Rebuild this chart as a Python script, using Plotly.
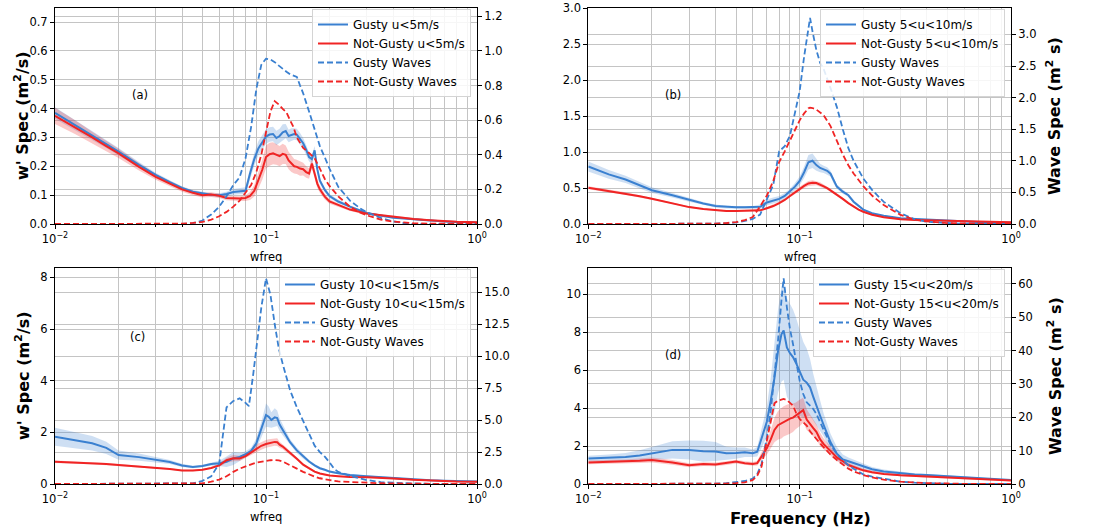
import plotly.graph_objects as go

W, H = 1094, 530
BLUE = "#3a80d0"
RED = "#f02424"
BLUE_FILL = "rgba(58,128,208,0.25)"
RED_FILL = "rgba(240,36,36,0.25)"
GRID = "#c4c4c4"
FONT = "DejaVu Sans"

# ---------------- Panel (a) ----------------
fa_wind = [0.01, 0.0125, 0.015, 0.0175, 0.02, 0.025, 0.03, 0.035, 0.04, 0.045,
           0.05, 0.055, 0.06, 0.065, 0.07, 0.075, 0.08, 0.084, 0.088, 0.092,
           0.096, 0.1, 0.104, 0.108, 0.112, 0.116, 0.12, 0.124, 0.128, 0.132,
           0.136, 0.14, 0.145, 0.15, 0.155, 0.16, 0.165, 0.17, 0.175, 0.18,
           0.19, 0.2, 0.22, 0.25, 0.3, 0.35, 0.4, 0.45, 0.5, 0.6,
           0.7, 0.8, 1.0]
gust_a = [0.385, 0.342, 0.307, 0.277, 0.251, 0.205, 0.170, 0.145, 0.125, 0.112,
          0.105, 0.101, 0.100, 0.104, 0.111, 0.113, 0.115, 0.175, 0.225, 0.262,
          0.285, 0.303, 0.310, 0.312, 0.298, 0.305, 0.318, 0.322, 0.305, 0.310,
          0.312, 0.310, 0.295, 0.280, 0.258, 0.232, 0.225, 0.255, 0.190, 0.150,
          0.118, 0.097, 0.078, 0.060, 0.038, 0.028, 0.022, 0.019, 0.016, 0.011,
          0.009, 0.007, 0.005]
nogust_a = [0.375, 0.335, 0.300, 0.270, 0.245, 0.198, 0.163, 0.140, 0.120, 0.108,
            0.100, 0.102, 0.098, 0.090, 0.089, 0.088, 0.090, 0.097, 0.115, 0.150,
            0.188, 0.232, 0.242, 0.245, 0.240, 0.235, 0.243, 0.240, 0.220, 0.208,
            0.200, 0.198, 0.192, 0.190, 0.180, 0.175, 0.210, 0.175, 0.140, 0.120,
            0.095, 0.078, 0.065, 0.050, 0.036, 0.030, 0.026, 0.022, 0.017, 0.013,
            0.010, 0.008, 0.006]
gust_err_a = [0.020, 0.018, 0.016, 0.014, 0.012, 0.010, 0.008, 0.007, 0.006, 0.006,
              0.006, 0.006, 0.007, 0.008, 0.010, 0.010, 0.012, 0.018, 0.022, 0.025,
              0.025, 0.025, 0.025, 0.025, 0.025, 0.025, 0.028, 0.025, 0.022, 0.022,
              0.020, 0.020, 0.020, 0.018, 0.016, 0.015, 0.015, 0.015, 0.012, 0.010,
              0.008, 0.007, 0.006, 0.005, 0.004, 0.004, 0.003, 0.003, 0.003, 0.002,
              0.002, 0.002, 0.002]
nogust_err_a = [0.028, 0.024, 0.020, 0.018, 0.016, 0.013, 0.010, 0.009, 0.008, 0.008,
                0.008, 0.008, 0.008, 0.008, 0.008, 0.008, 0.010, 0.014, 0.020, 0.028,
                0.035, 0.040, 0.040, 0.038, 0.035, 0.035, 0.035, 0.032, 0.030, 0.028,
                0.025, 0.025, 0.025, 0.022, 0.020, 0.018, 0.018, 0.016, 0.014, 0.012,
                0.010, 0.008, 0.006, 0.005, 0.004, 0.004, 0.003, 0.003, 0.003, 0.002,
                0.002, 0.002, 0.002]
fa_wave = [0.01, 0.02, 0.03, 0.04, 0.045, 0.05, 0.055, 0.06, 0.065, 0.07,
           0.075, 0.08, 0.085, 0.09, 0.095, 0.1, 0.105, 0.11, 0.115, 0.12,
           0.125, 0.13, 0.135, 0.14, 0.145, 0.15, 0.16, 0.17, 0.18, 0.19,
           0.2, 0.22, 0.25, 0.28, 0.3, 0.35, 0.4, 0.45, 0.5, 0.6,
           0.8, 1.0]
gust_wave_a = [0, 0, 0, 0, 0.005, 0.02, 0.055, 0.10, 0.16, 0.225,
               0.27, 0.38, 0.56, 0.78, 0.92, 0.955, 0.95, 0.935, 0.915, 0.895,
               0.88, 0.865, 0.855, 0.85, 0.80, 0.755, 0.65, 0.54, 0.45, 0.385,
               0.32, 0.215, 0.135, 0.09, 0.068, 0.035, 0.015, 0.005, 0, 0,
               0, 0]
nogust_wave_a = [0, 0, 0, 0.002, 0.006, 0.012, 0.025, 0.045, 0.07, 0.10,
                 0.135, 0.18, 0.225, 0.30, 0.40, 0.53, 0.65, 0.71, 0.69, 0.665,
                 0.645, 0.60, 0.56, 0.50, 0.465, 0.44, 0.41, 0.38, 0.32, 0.26,
                 0.22, 0.16, 0.10, 0.065, 0.05, 0.026, 0.014, 0.008, 0.005, 0.002,
                 0, 0]

# ---------------- Panel (b) ----------------
fb_wind = [0.01, 0.0125, 0.015, 0.0175, 0.02, 0.025, 0.03, 0.035, 0.04, 0.045,
           0.05, 0.055, 0.06, 0.065, 0.07, 0.075, 0.08, 0.085, 0.09, 0.095,
           0.1, 0.105, 0.11, 0.115, 0.12, 0.125, 0.13, 0.135, 0.14, 0.145,
           0.15, 0.16, 0.17, 0.18, 0.19, 0.2, 0.22, 0.25, 0.3, 0.35,
           0.4, 0.5, 0.6, 0.7, 0.8, 1.0]
gust_b = [0.80, 0.69, 0.62, 0.54, 0.47, 0.40, 0.335, 0.285, 0.25, 0.235,
          0.232, 0.232, 0.232, 0.24, 0.30, 0.33, 0.35, 0.39, 0.45, 0.52,
          0.60, 0.72, 0.86, 0.88, 0.82, 0.78, 0.76, 0.74, 0.70, 0.60,
          0.52, 0.45, 0.40, 0.31, 0.25, 0.20, 0.15, 0.115, 0.08, 0.07,
          0.058, 0.045, 0.035, 0.028, 0.024, 0.02]
nogust_b = [0.505, 0.46, 0.425, 0.385, 0.35, 0.29, 0.235, 0.21, 0.19, 0.182,
            0.18, 0.182, 0.185, 0.19, 0.22, 0.25, 0.29, 0.335, 0.39, 0.44,
            0.49, 0.53, 0.565, 0.575, 0.57, 0.55, 0.525, 0.50, 0.47, 0.44,
            0.41, 0.35, 0.29, 0.24, 0.20, 0.17, 0.13, 0.095, 0.065, 0.055,
            0.05, 0.045, 0.038, 0.032, 0.028, 0.023]
gust_err_b = [0.07, 0.06, 0.05, 0.045, 0.04, 0.03, 0.025, 0.02, 0.02, 0.02,
              0.02, 0.02, 0.02, 0.03, 0.04, 0.04, 0.04, 0.04, 0.04, 0.05,
              0.06, 0.08, 0.10, 0.10, 0.08, 0.06, 0.05, 0.05, 0.04, 0.04,
              0.03, 0.03, 0.02, 0.02, 0.015, 0.012, 0.01, 0.008, 0.006, 0.005,
              0.005, 0.004, 0.004, 0.003, 0.003, 0.003]
nogust_err_b = [0.02, 0.02, 0.018, 0.016, 0.015, 0.013, 0.012, 0.01, 0.01, 0.01,
                0.01, 0.01, 0.01, 0.012, 0.015, 0.018, 0.02, 0.02, 0.025, 0.03,
                0.03, 0.03, 0.035, 0.035, 0.03, 0.03, 0.025, 0.025, 0.02, 0.02,
                0.02, 0.015, 0.012, 0.01, 0.01, 0.008, 0.006, 0.005, 0.004, 0.004,
                0.003, 0.003, 0.003, 0.002, 0.002, 0.002]
fb_wave = [0.01, 0.02, 0.03, 0.035, 0.04, 0.045, 0.05, 0.055, 0.06, 0.065,
           0.07, 0.075, 0.08, 0.085, 0.09, 0.095, 0.1, 0.105, 0.11, 0.112,
           0.115, 0.12, 0.125, 0.13, 0.14, 0.15, 0.16, 0.17, 0.18, 0.2,
           0.22, 0.25, 0.3, 0.35, 0.4, 0.5, 0.6, 0.8, 1.0]
gust_wave_b = [0, 0, 0, 0, 0.005, 0.012, 0.025, 0.05, 0.08, 0.15,
               0.38, 0.62, 1.15, 1.23, 1.40, 1.75, 2.10, 2.65, 3.10, 3.26,
               3.05, 2.75, 2.55, 2.45, 2.15, 1.85, 1.50, 1.20, 1.00, 0.72,
               0.54, 0.35, 0.17, 0.075, 0.035, 0.01, 0, 0, 0]
nogust_wave_b = [0, 0, 0, 0, 0.005, 0.015, 0.03, 0.06, 0.11, 0.28,
                 0.45, 0.68, 0.98, 1.15, 1.32, 1.50, 1.64, 1.75, 1.83, 1.84,
                 1.835, 1.81, 1.77, 1.72, 1.55, 1.32, 1.10, 0.93, 0.80, 0.60,
                 0.45, 0.30, 0.143, 0.07, 0.04, 0.015, 0.005, 0, 0]

# ---------------- Panel (c) ----------------
fc_wind = [0.01, 0.0125, 0.015, 0.0175, 0.02, 0.025, 0.03, 0.035, 0.04, 0.045,
           0.05, 0.055, 0.06, 0.065, 0.07, 0.075, 0.08, 0.085, 0.09, 0.095,
           0.1, 0.103, 0.106, 0.11, 0.113, 0.116, 0.12, 0.125, 0.13, 0.14,
           0.15, 0.16, 0.17, 0.18, 0.19, 0.2, 0.22, 0.25, 0.3, 0.35,
           0.4, 0.5, 0.6, 0.7, 0.8, 1.0]
gust_c = [1.83, 1.70, 1.58, 1.40, 1.12, 1.04, 0.93, 0.85, 0.72, 0.66,
          0.70, 0.77, 0.80, 0.86, 0.99, 1.05, 1.15, 1.28, 1.57, 2.10,
          2.67, 2.60, 2.48, 2.58, 2.55, 2.30, 2.09, 1.85, 1.62, 1.30,
          1.06, 0.87, 0.72, 0.61, 0.55, 0.48, 0.42, 0.35, 0.30, 0.26,
          0.24, 0.18, 0.15, 0.13, 0.12, 0.10]
nogust_c = [0.86, 0.83, 0.80, 0.77, 0.735, 0.68, 0.62, 0.58, 0.52, 0.52,
            0.55, 0.62, 0.72, 0.92, 1.00, 0.99, 1.08, 1.22, 1.38, 1.48,
            1.55, 1.58, 1.60, 1.63, 1.62, 1.52, 1.45, 1.33, 1.20, 0.98,
            0.75, 0.60, 0.48, 0.41, 0.36, 0.33, 0.30, 0.27, 0.26, 0.24,
            0.21, 0.16, 0.13, 0.11, 0.10, 0.09]
gust_err_c = [0.35, 0.32, 0.28, 0.24, 0.18, 0.14, 0.10, 0.08, 0.06, 0.05,
              0.05, 0.06, 0.10, 0.20, 0.25, 0.15, 0.12, 0.12, 0.20, 0.30,
              0.45, 0.40, 0.30, 0.35, 0.30, 0.25, 0.20, 0.15, 0.12, 0.10,
              0.08, 0.06, 0.05, 0.05, 0.04, 0.04, 0.03, 0.03, 0.03, 0.02,
              0.02, 0.02, 0.02, 0.02, 0.02, 0.02]
nogust_err_c = [0.05, 0.05, 0.04, 0.04, 0.04, 0.04, 0.03, 0.03, 0.03, 0.03,
                0.03, 0.04, 0.06, 0.10, 0.12, 0.10, 0.10, 0.12, 0.15, 0.15,
                0.15, 0.15, 0.15, 0.15, 0.15, 0.12, 0.10, 0.08, 0.08, 0.06,
                0.05, 0.04, 0.04, 0.03, 0.03, 0.03, 0.02, 0.02, 0.02, 0.02,
                0.02, 0.02, 0.02, 0.02, 0.02, 0.02]
fc_wave = [0.01, 0.02, 0.03, 0.04, 0.045, 0.05, 0.055, 0.06, 0.065, 0.07,
           0.075, 0.08, 0.083, 0.087, 0.09, 0.095, 0.1, 0.105, 0.11, 0.115,
           0.12, 0.13, 0.14, 0.15, 0.16, 0.17, 0.18, 0.19, 0.2, 0.21,
           0.22, 0.25, 0.3, 0.35, 0.4, 0.5, 0.6, 0.8, 1.0]
gust_wave_c = [0, 0, 0, 0.02, 0.05, 0.25, 0.6, 1.6, 6.0, 6.5,
               6.7, 6.35, 6.1, 8.6, 10.5, 13.8, 16.1, 14.8, 12.5, 10.6,
               9.4, 7.35, 6.0, 4.9, 3.9, 3.0, 2.5, 2.14, 1.7, 1.2,
               0.95, 0.63, 0.31, 0.15, 0.10, 0.04, 0, 0, 0]
nogust_wave_c = [0, 0, 0, 0, 0.01, 0.05, 0.18, 0.35, 0.6, 0.95,
                 1.2, 1.4, 1.5, 1.6, 1.68, 1.76, 1.82, 1.86, 1.88, 1.85,
                 1.76, 1.5, 1.2, 0.95, 0.75, 0.58, 0.45, 0.36, 0.30, 0.25,
                 0.2, 0.15, 0.1, 0.06, 0.04, 0.01, 0, 0, 0]

# ---------------- Panel (d) ----------------
fd_wind = [0.01, 0.0125, 0.015, 0.0175, 0.02, 0.025, 0.03, 0.035, 0.04, 0.045,
           0.05, 0.055, 0.06, 0.063, 0.066, 0.07, 0.073, 0.076, 0.079, 0.082,
           0.084, 0.087, 0.09, 0.093, 0.096, 0.1, 0.104, 0.108, 0.112, 0.116,
           0.12, 0.125, 0.13, 0.14, 0.15, 0.16, 0.17, 0.18, 0.2, 0.22,
           0.25, 0.3, 0.35, 0.4, 0.5, 0.6, 0.7, 0.8, 1.0]
gust_d = [1.34, 1.37, 1.42, 1.50, 1.60, 1.80, 1.79, 1.73, 1.72, 1.62,
          1.63, 1.68, 1.62, 1.70, 2.40, 3.30, 4.40, 5.60, 7.00, 7.90,
          8.10, 7.20, 6.90, 6.70, 6.40, 5.90, 5.50, 5.35, 5.10, 4.60,
          4.10, 3.60, 3.10, 2.20, 1.60, 1.30, 1.20, 1.10, 0.93, 0.78,
          0.66, 0.56, 0.50, 0.47, 0.40, 0.34, 0.30, 0.26, 0.21]
nogust_d = [1.14, 1.16, 1.19, 1.23, 1.27, 1.14, 0.99, 1.05, 1.03, 1.10,
            1.18, 1.10, 1.06, 1.10, 1.45, 1.90, 2.35, 2.85, 3.10, 3.20,
            3.30, 3.38, 3.45, 3.50, 3.60, 3.75, 3.90, 3.40, 3.20, 2.95,
            2.75, 2.35, 2.10, 1.75, 1.40, 1.20, 1.00, 0.90, 0.72, 0.62,
            0.53, 0.46, 0.42, 0.38, 0.33, 0.29, 0.25, 0.22, 0.18]
gust_err_d = [0.15, 0.18, 0.22, 0.28, 0.35, 0.45, 0.50, 0.55, 0.50, 0.35,
              0.30, 0.25, 0.20, 0.25, 0.50, 0.80, 1.20, 1.80, 2.20, 2.50,
              2.60, 2.60, 2.60, 2.50, 2.40, 2.30, 2.00, 1.80, 1.50, 1.20,
              1.00, 0.80, 0.60, 0.45, 0.35, 0.25, 0.20, 0.18, 0.15, 0.12,
              0.10, 0.08, 0.07, 0.06, 0.05, 0.05, 0.05, 0.04, 0.04]
nogust_err_d = [0.10, 0.10, 0.10, 0.12, 0.13, 0.12, 0.10, 0.10, 0.10, 0.10,
                0.10, 0.10, 0.10, 0.12, 0.20, 0.35, 0.50, 0.65, 0.75, 0.80,
                0.80, 0.80, 0.80, 0.75, 0.70, 0.70, 0.65, 0.55, 0.50, 0.45,
                0.40, 0.35, 0.30, 0.25, 0.20, 0.15, 0.12, 0.10, 0.08, 0.07,
                0.06, 0.05, 0.05, 0.04, 0.04, 0.04, 0.03, 0.03, 0.03]
fd_wave = [0.01, 0.02, 0.03, 0.04, 0.045, 0.05, 0.055, 0.06, 0.063, 0.066,
           0.07, 0.073, 0.076, 0.079, 0.082, 0.084, 0.087, 0.09, 0.093, 0.096,
           0.1, 0.104, 0.108, 0.112, 0.116, 0.12, 0.125, 0.13, 0.14, 0.15,
           0.16, 0.17, 0.18, 0.2, 0.22, 0.25, 0.3, 0.35, 0.4, 0.5,
           0.6, 1.0]
gust_wave_d = [0, 0, 0, 0.1, 0.25, 0.5, 0.9, 1.6, 3.0, 6.0,
               14, 22, 32, 43, 55, 61.7, 53, 46.5, 42, 37,
               31, 27, 24.5, 23.5, 22.5, 21, 18.5, 16, 11.8, 9.0,
               7.2, 5.6, 4.6, 2.9, 2.2, 1.5, 0.7, 0.4, 0.2, 0.05,
               0, 0]
nogust_wave_d = [0, 0, 0, 0.05, 0.12, 0.25, 0.5, 1.2, 2.5, 5.2,
                 13, 19, 24.2, 25, 25.3, 25.5, 25.2, 24.3, 23.5, 21.5,
                 19.5, 18.5, 17.5, 15.8, 14.5, 13.5, 12.2, 11, 8.8, 7.2,
                 5.8, 4.6, 3.8, 2.7, 2.0, 1.3, 0.7, 0.4, 0.25, 0.15,
                 0.05, 0]

labels = ["u&lt;5m/s", "5&lt;u&lt;10m/s", "10&lt;u&lt;15m/s", "15&lt;u&lt;20m/s"]
panel_tags = ["(a)", "(b)", "(c)", "(d)"]

panels = [
    dict(fw=fa_wind, g=gust_a, n=nogust_a, ge=gust_err_a, ne=nogust_err_a,
         fv=fa_wave, gv=gust_wave_a, nv=nogust_wave_a),
    dict(fw=fb_wind, g=gust_b, n=nogust_b, ge=gust_err_b, ne=nogust_err_b,
         fv=fb_wave, gv=gust_wave_b, nv=nogust_wave_b),
    dict(fw=fc_wind, g=gust_c, n=nogust_c, ge=gust_err_c, ne=nogust_err_c,
         fv=fc_wave, gv=gust_wave_c, nv=nogust_wave_c),
    dict(fw=fd_wind, g=gust_d, n=nogust_d, ge=gust_err_d, ne=nogust_err_d,
         fv=fd_wave, gv=gust_wave_d, nv=nogust_wave_d),
]
for p in panels:
    assert len(p["fw"]) == len(p["g"]) == len(p["n"]) == len(p["ge"]) == len(p["ne"])
    assert len(p["fv"]) == len(p["gv"]) == len(p["nv"])

# layout geometry (pixels)
xpix = [(55, 477), (588.3, 1011), (55, 477), (588.3, 1011)]
ypix = [(8, 224), (8, 224), (268.3, 484), (268.3, 484)]
left_range = [0.7486, 3.006, 8.35, 11.38]
right_range = [1.248, 3.418, 16.88, 64.7]
left_dtick = [0.1, 0.5, 2, 2]
right_dtick = [0.2, 0.5, 2.5, 10]
left_fmt = [".1f", ".1f", "d", "d"]
right_fmt = [".1f", ".1f", ".1f", "d"]
legend_top = [9, 9, 269, 269]

minor_vals = [v * m for m in (0.01, 0.1) for v in range(2, 10)]

fig = go.Figure()
layout = dict(width=W, height=H, autosize=False, margin=dict(l=0, r=0, t=0, b=0, pad=0),
              paper_bgcolor="white", plot_bgcolor="white",
              font=dict(family=FONT, size=11, color="black"), showlegend=True)
annotations = []

def band(f, v, e):
    up = [a + b for a, b in zip(v, e)]
    lo = [max(a - b, 0) for a, b in zip(v, e)]
    return f + f[::-1], up + lo[::-1]

for i, p in enumerate(panels):
    k = i + 1
    xa = "x" if k == 1 else f"x{k}"
    yl = "y" if i == 0 else f"y{2*i+1}"
    yr = f"y{2*i+2}"
    leg = "legend" if k == 1 else f"legend{k}"

    bx, by = band(p["fw"], p["g"], p["ge"])
    fig.add_trace(go.Scatter(x=bx, y=by, fill="toself", fillcolor=BLUE_FILL,
                             line=dict(width=0), mode="lines", showlegend=False,
                             hoverinfo="skip", xaxis=xa, yaxis=yl))
    bx, by = band(p["fw"], p["n"], p["ne"])
    fig.add_trace(go.Scatter(x=bx, y=by, fill="toself", fillcolor=RED_FILL,
                             line=dict(width=0), mode="lines", showlegend=False,
                             hoverinfo="skip", xaxis=xa, yaxis=yl))
    fig.add_trace(go.Scatter(x=p["fw"], y=p["g"], mode="lines",
                             line=dict(color=BLUE, width=2),
                             name="Gusty " + labels[i], legend=leg,
                             xaxis=xa, yaxis=yl))
    fig.add_trace(go.Scatter(x=p["fw"], y=p["n"], mode="lines",
                             line=dict(color=RED, width=2),
                             name="Not-Gusty " + labels[i], legend=leg,
                             xaxis=xa, yaxis=yl))
    fig.add_trace(go.Scatter(x=p["fv"], y=p["gv"], mode="lines",
                             line=dict(color=BLUE, width=1.8, dash="6px,3px"),
                             name="Gusty Waves", legend=leg,
                             xaxis=xa, yaxis=yr))
    fig.add_trace(go.Scatter(x=p["fv"], y=p["nv"], mode="lines",
                             line=dict(color=RED, width=1.8, dash="6px,3px"),
                             name="Not-Gusty Waves", legend=leg,
                             xaxis=xa, yaxis=yr))

    x0, x1 = xpix[i]
    y0, y1 = ypix[i]
    xdom = [x0 / W, x1 / W]
    ydom = [1 - y1 / H, 1 - y0 / H]
    xkey = "xaxis" if k == 1 else f"xaxis{k}"
    ylkey = "yaxis" if i == 0 else f"yaxis{2*i+1}"
    yrkey = f"yaxis{2*i+2}"
    common = dict(showgrid=True, gridcolor=GRID, gridwidth=1,
                  showline=True, linecolor="black", linewidth=1,
                  ticks="outside", ticklen=4, tickcolor="black",
                  tickfont=dict(size=11.5), zeroline=False, automargin=False)
    layout[xkey] = dict(domain=xdom, anchor=yl, type="log", range=[-2, 0],
                        tickmode="array", tickvals=[0.01, 0.1, 1],
                        ticktext=["10<sup>−2</sup>", "10<sup>−1</sup>", "10<sup>0</sup>"],
                        minor=dict(tickmode="array", tickvals=minor_vals, showgrid=True,
                                   gridcolor=GRID, gridwidth=1, ticks="outside",
                                   ticklen=2, tickcolor="black"),
                        mirror=True, **common)
    layout[ylkey] = dict(domain=ydom, anchor=xa, range=[0, left_range[i]],
                         tick0=0, dtick=left_dtick[i], tickformat=left_fmt[i], **common)
    layout[yrkey] = dict(domain=ydom, anchor=xa, overlaying=yl, side="right",
                         range=[0, right_range[i]], tick0=0, dtick=right_dtick[i],
                         tickformat=right_fmt[i], **common)
    layout[leg] = dict(x=(x1 - 6) / W, y=1 - legend_top[i] / H, xanchor="right", yanchor="top",
                       bgcolor="rgba(255,255,255,0.85)", bordercolor="#d4d4d4",
                       borderwidth=1, font=dict(size=12, family=FONT),
                       itemwidth=30, tracegroupgap=0)
    tag_pos = [(140, 95), (673, 95), (137, 337), (673, 355)][i]
    annotations.append(dict(text=panel_tags[i], x=tag_pos[0] / W, y=1 - tag_pos[1] / H,
                            xref="paper", yref="paper", showarrow=False,
                            xanchor="center", yanchor="middle",
                            font=dict(size=11.5, family=FONT)))

# axis titles
for (cx, cy) in [(22, 116), (22, 376)]:
    annotations.append(dict(text="<b>w' Spec (m<sup>2</sup>/s)</b>", x=cx / W, y=1 - cy / H,
                            xref="paper", yref="paper", showarrow=False, textangle=-90,
                            xanchor="center", yanchor="middle",
                            font=dict(size=16, family=FONT)))
for (cx, cy) in [(1054, 116), (1054, 376)]:
    annotations.append(dict(text="<b>Wave Spec (m<sup>2</sup> s)</b>", x=cx / W, y=1 - cy / H,
                            xref="paper", yref="paper", showarrow=False, textangle=-90,
                            xanchor="center", yanchor="middle",
                            font=dict(size=16, family=FONT)))
for (cx, cy) in [(266, 257), (800, 257), (266, 517)]:
    annotations.append(dict(text="wfreq", x=cx / W, y=1 - cy / H,
                            xref="paper", yref="paper", showarrow=False,
                            xanchor="center", yanchor="middle",
                            font=dict(size=11.5, family=FONT)))
annotations.append(dict(text="<b>Frequency (Hz)</b>", x=800 / W, y=1 - 518 / H,
                        xref="paper", yref="paper", showarrow=False,
                        xanchor="center", yanchor="middle",
                        font=dict(size=16.5, family=FONT)))
layout["annotations"] = annotations

fig.update_layout(**layout)
fig.write_html("out.html", config={"displayModeBar": False},
               post_script="document.body.style.margin='0';")
